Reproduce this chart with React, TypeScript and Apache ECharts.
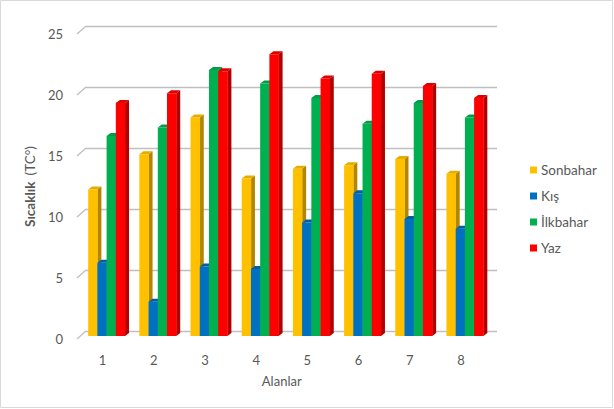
import React, { useEffect, useRef } from "react";
import * as echarts from "echarts";

const categories = ["1", "2", "3", "4", "5", "6", "7", "8"];
const sonbahar = [12.0, 14.9, 17.9, 12.9, 13.7, 14.0, 14.5, 13.3];
const kis = [6.0, 2.8, 5.7, 5.5, 9.3, 11.7, 9.6, 8.8];
const ilkbahar = [16.4, 17.1, 21.8, 20.7, 19.5, 17.4, 19.1, 17.9];
const yaz = [19.1, 19.9, 21.7, 23.1, 21.1, 21.5, 20.5, 19.5];
const seriesNames = ["Sonbahar", "Kış", "İlkbahar", "Yaz"];
const yTicks = [0, 5, 10, 15, 20, 25];

const palette = [
  { front: "#FFC000", top: "#E6AC00", side: "#B38600" },
  { front: "#0070C0", top: "#005FA3", side: "#004E86" },
  { front: "#00B050", top: "#009E48", side: "#007B38" },
  { front: "#FF0000", top: "#E00000", side: "#B00000" },
];

const FONT = "Lato, 'Liberation Sans', sans-serif";
const TXT = "#595959";

function makeBarRenderer(si: number) {
  const c = palette[si];
  return (params: any, api: any) => {
    const idx = api.value(0);
    const v = api.value(1);
    const top = api.coord([idx, v]);
    const base = api.coord([idx, 0]);
    const band = api.size([1, 0])[0];
    const bw = band * 0.18;
    const sx = 4, sy = -3; // bar placement inside depth
    const dx = 4, dy = -3; // bar depth
    const x0 = top[0] - 2 * bw + si * bw + sx;
    const x1 = x0 + bw;
    const yT = top[1] + sy;
    const yB = base[1] + sy;
    return {
      type: "group",
      children: [
        {
          type: "polygon",
          shape: { points: [[x1, yB], [x1 + dx, yB + dy], [x1 + dx, yT + dy], [x1, yT]] },
          style: { fill: c.side },
        },
        {
          type: "polygon",
          shape: { points: [[x0, yT], [x0 + dx, yT + dy], [x1 + dx, yT + dy], [x1, yT]] },
          style: { fill: c.top },
        },
        {
          type: "rect",
          shape: { x: x0, y: yT, width: bw + 0.3, height: yB - yT },
          style: { fill: c.front },
        },
      ],
    };
  };
}

export default function App() {
  const ref = useRef<HTMLDivElement>(null);
  useEffect(() => {
    if (!ref.current) return;
    const chart = echarts.init(ref.current, undefined, { renderer: "svg" });
    const allData = [sonbahar, kis, ilkbahar, yaz];
    const barSeries = allData.map((arr, si) => ({
      type: "custom",
      name: seriesNames[si],
      xAxisIndex: 0,
      yAxisIndex: 0,
      itemStyle: { color: palette[si].front },
      renderItem: makeBarRenderer(si),
      encode: { x: 0, y: 1 },
      data: arr.map((v, i) => [i, v]),
      z: 3,
    }));
    chart.setOption({
      animation: false,
      backgroundColor: "#ffffff",
      textStyle: { fontFamily: FONT },
      graphic: [
        {
          type: "rect",
          shape: { x: 0.5, y: 0.5, width: 612, height: 407 },
          style: { fill: "none", stroke: "#d9d9d9", lineWidth: 1 },
          silent: true,
        },
      ],
      legend: {
        orient: "vertical",
        left: 525,
        top: 158,
        itemWidth: 7,
        itemHeight: 7,
        itemGap: 12,
        icon: "rect",
        data: seriesNames,
        textStyle: { color: TXT, fontSize: 13.5, fontFamily: FONT, lineHeight: 14, height: 14, padding: [0, 0, 0, -1] },
      },
      grid: [
        { left: 77, right: 127.5, top: 34, bottom: 70 },
        { left: 86, right: 117, top: 26, bottom: 78 },
      ],
      xAxis: [
        {
          type: "category",
          gridIndex: 0,
          data: categories,
          axisLine: { show: false },
          axisTick: { show: false },
          axisLabel: { color: TXT, fontSize: 13, fontFamily: FONT, margin: 14 },
          name: "Alanlar",
          nameLocation: "middle",
          nameGap: 35,
          nameTextStyle: { color: TXT, fontSize: 13, fontFamily: FONT },
        },
        { type: "value", gridIndex: 1, show: false, min: 0, max: 1 },
      ],
      yAxis: [
        {
          type: "value",
          gridIndex: 0,
          min: 0,
          max: 25,
          interval: 5,
          axisLine: { show: false },
          axisTick: { show: false },
          splitLine: { show: false },
          axisLabel: { color: TXT, fontSize: 13, fontFamily: FONT, margin: 14 },
          name: "{b|Sıcaklık}  {n|(TC°)}",
          nameLocation: "middle",
          nameRotate: 90,
          nameGap: 38,
          nameTextStyle: {
            color: TXT,
            rich: {
              b: { fontWeight: "bold", fontSize: 13.5, color: TXT, fontFamily: FONT },
              n: { fontSize: 13.5, color: TXT, fontFamily: FONT },
            },
          },
        },
        {
          type: "value",
          gridIndex: 1,
          min: 0,
          max: 25,
          interval: 5,
          axisLine: { show: false },
          axisTick: { show: false },
          axisLabel: { show: false },
          splitLine: { show: true, lineStyle: { color: "#bfbfbf", width: 1.3 } },
        },
      ],
      series: [
        {
          type: "custom",
          name: "ticks",
          xAxisIndex: 0,
          yAxisIndex: 0,
          silent: true,
          renderItem: (params: any, api: any) => {
            const y = api.coord([0, api.value(1)])[1];
            const x = params.coordSys.x;
            return {
              type: "line",
              shape: { x1: x, y1: y, x2: x + 9, y2: y - 8 },
              style: { stroke: "#bfbfbf", lineWidth: 1.3 },
            };
          },
          data: yTicks.map((v) => [0, v]),
          z: 1,
        },
        ...barSeries,
      ],
    });
    return () => chart.dispose();
  }, []);
  return (
    <div
      ref={ref}
      style={{ position: "fixed", left: 0, top: 0, width: 614, height: 409 }}
    />
  );
}
